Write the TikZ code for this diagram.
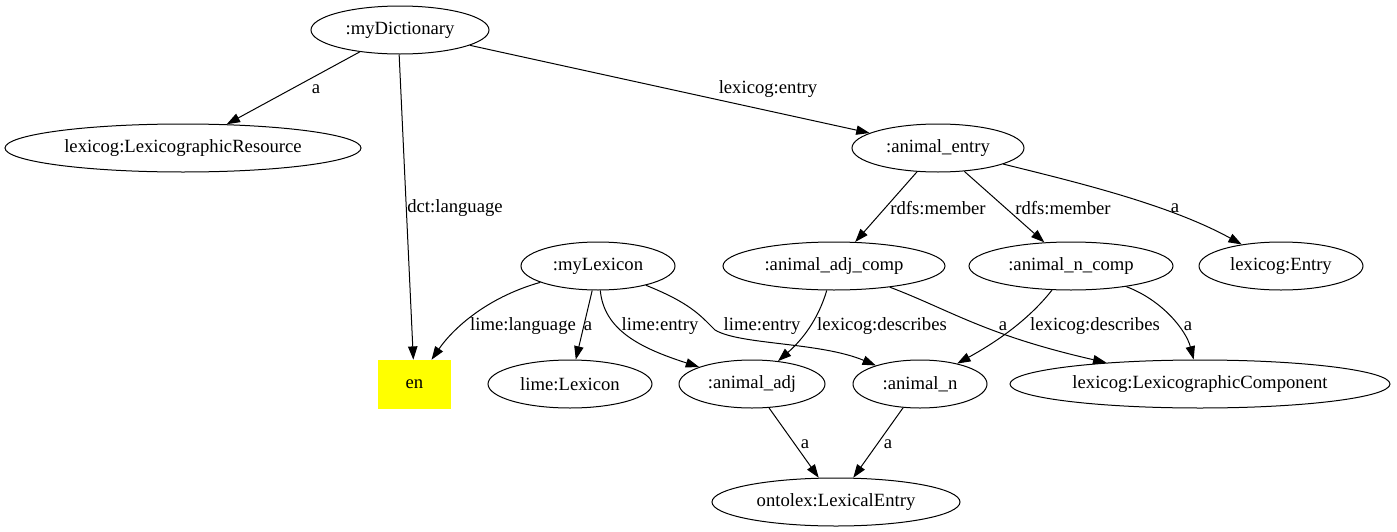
\documentclass[tikz,border=0pt]{standalone}
\usepackage{fontspec}
\setmainfont{Liberation Serif}
\usetikzlibrary{shapes.geometric,arrows.meta}
\definecolor{pureyellow}{RGB}{255,255,0}
\begin{document}
\begin{tikzpicture}[x=0.75pt,y=-0.75pt,
  every node/.style={font=\fontsize{14pt}{16pt}\selectfont},
  ell/.style={draw,ellipse,inner sep=0pt,line width=0.75pt,minimum height=36pt},
  lbl/.style={inner sep=0pt},
  edge/.style={draw,line width=0.75pt,-{Triangle[length=10pt,width=7pt]}}]
\useasboundingbox (0,0) rectangle (1397,532);
% nodes
\node[ell,minimum width=133.5pt] (dict) at (400,30) {:myDictionary};
\node[ell,minimum width=267pt] (lres) at (183,148) {lexicog:LexicographicResource};
\node[ell,minimum width=129pt] (ae) at (938,148) {:animal\_entry};
\node[fill=pureyellow,minimum width=55pt,minimum height=36.75pt,inner sep=0pt] (en) at (414.5,384.5) {en};
\node[ell,minimum width=115.5pt] (ml) at (598,266) {:myLexicon};
\node[ell,minimum width=166.5pt] (ajc) at (834,266) {:animal\_adj\_comp};
\node[ell,minimum width=153pt] (anc) at (1071,266) {:animal\_n\_comp};
\node[ell,minimum width=123pt] (lent) at (1281,266) {lexicog:Entry};
\node[ell,minimum width=123pt] (llex) at (570,384) {lime:Lexicon};
\node[ell,minimum width=109.5pt] (aadj) at (752,384) {:animal\_adj};
\node[ell,minimum width=100.5pt] (an) at (920,384) {:animal\_n};
\node[ell,minimum width=285pt] (lcomp) at (1200,384) {lexicog:LexicographicComponent};
\node[ell,minimum width=186pt] (lexe) at (836,502) {ontolex:LexicalEntry};
% edges
\path[edge] (dict) -- (lres) node[lbl] at (316,89) {a};
\path[edge] (dict.-92) -- (en) node[lbl] at (455,208) {dct:language};
\path[edge] (dict) -- (ae) node[lbl] at (768,89) {lexicog:entry};
\path[edge] (ae) -- (ajc) node[lbl] at (938,208) {rdfs:member};
\path[edge] (ae) -- (anc) node[lbl] at (1063,208) {rdfs:member};
\path[edge] (ae) .. controls (1080,183) and (1170,205) .. (lent) node[lbl] at (1175,208) {a};
\path[edge] (ml) .. controls (485,298) and (452,330) .. (en) node[lbl] at (523,326) {lime:language};
\path[edge] (ml) -- (llex) node[lbl] at (588,326) {a};
\path[edge] (ml) .. controls (604,330) and (640,348) .. (aadj) node[lbl] at (660,326) {lime:entry};
\path[edge] (ml) .. controls (690,303) and (700,315) .. (715,330) .. controls (740,345) and (820,342) .. (an) node[lbl] at (762,326) {lime:entry};
\path[edge] (ajc) .. controls (818,320) and (802,340) .. (aadj) node[lbl] at (882,326) {lexicog:describes};
\path[edge] (ajc) .. controls (950,310) and (985,335) .. (lcomp) node[lbl] at (1003,326) {a};
\path[edge] (anc) .. controls (1030,318) and (1000,340) .. (an) node[lbl] at (1095,326) {lexicog:describes};
\path[edge] (anc) .. controls (1162,300) and (1186,330) .. (lcomp) node[lbl] at (1188,326) {a};
\path[edge] (aadj) -- (lexe) node[lbl] at (805,444) {a};
\path[edge] (an) -- (lexe) node[lbl] at (888,444) {a};
\end{tikzpicture}
\end{document}
